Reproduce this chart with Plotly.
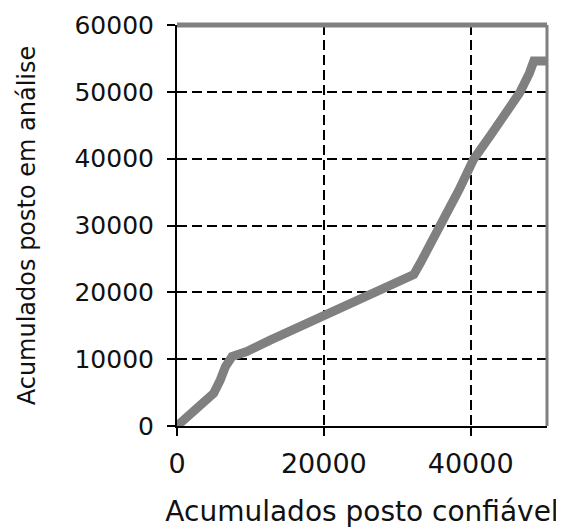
import plotly.graph_objects as go

# Cumulative values
acum_confiavel = [0, 1800, 3600, 5000, 5900, 6600, 7500, 9500, 12700, 15000, 16800,
                  19950, 23150, 26800, 30400, 32250, 33200, 34000, 35800, 38400,
                  40400, 42900, 45500, 46700, 48000, 48600, 50400]
acum_analise = [0, 1900, 3600, 4900, 6900, 8900, 10400, 11150, 12850, 14000, 15150,
                16650, 18150, 20150, 21650, 22650, 24500, 26300, 29900, 35300,
                39900, 43800, 47800, 49900, 52800, 54600, 54600]

x_ticks = [0, 20000, 40000]
y_ticks = [0, 10000, 20000, 30000, 40000, 50000, 60000]

x_title = "Acumulados posto confiável"
y_title = "Acumulados posto em análise"

FONT = "DejaVu Sans"
XMAX = 50400

fig = go.Figure()
fig.add_trace(go.Scatter(
    x=acum_confiavel, y=acum_analise, mode="lines",
    line=dict(color="#808080", width=9), showlegend=False,
))

fig.update_layout(
    width=556, height=523,
    margin=dict(l=169, r=17, t=17, b=105, autoexpand=False),
    paper_bgcolor="white", plot_bgcolor="white",
    font=dict(family=FONT, size=22, color="#111111"),
    xaxis=dict(
        range=[0, XMAX], tickvals=x_ticks, ticktext=[str(v) for v in x_ticks],
        showline=True, linecolor="black", linewidth=2, automargin=False,
        ticks="outside", ticklen=8, tickwidth=2, tickcolor="black",
        tickfont=dict(family=FONT, size=27),
        showgrid=True, gridcolor="black", gridwidth=2, griddash="10px,5px",
        zeroline=False, ticklabelstandoff=5,
        title=dict(text=x_title, font=dict(family=FONT, size=28), standoff=23),
    ),
    yaxis=dict(
        range=[0, 60000], tickvals=y_ticks, ticktext=[str(v) for v in y_ticks],
        showline=True, linecolor="black", linewidth=2, automargin=False,
        ticks="outside", ticklen=8, tickwidth=2, tickcolor="black",
        tickfont=dict(family=FONT, size=25),
        showgrid=True, gridcolor="black", gridwidth=2, griddash="10px,5px",
        zeroline=False, ticklabelstandoff=8,
        title=dict(text=y_title, font=dict(family=FONT, size=24), standoff=32),
    ),
    shapes=[
        dict(type="line", xref="paper", yref="paper", x0=0, x1=1, y0=1, y1=1,
             line=dict(color="#808080", width=5)),
        dict(type="line", xref="paper", yref="paper", x0=1, x1=1, y0=0, y1=1,
             line=dict(color="#808080", width=3)),
    ],
)

fig.write_html("out.html")
